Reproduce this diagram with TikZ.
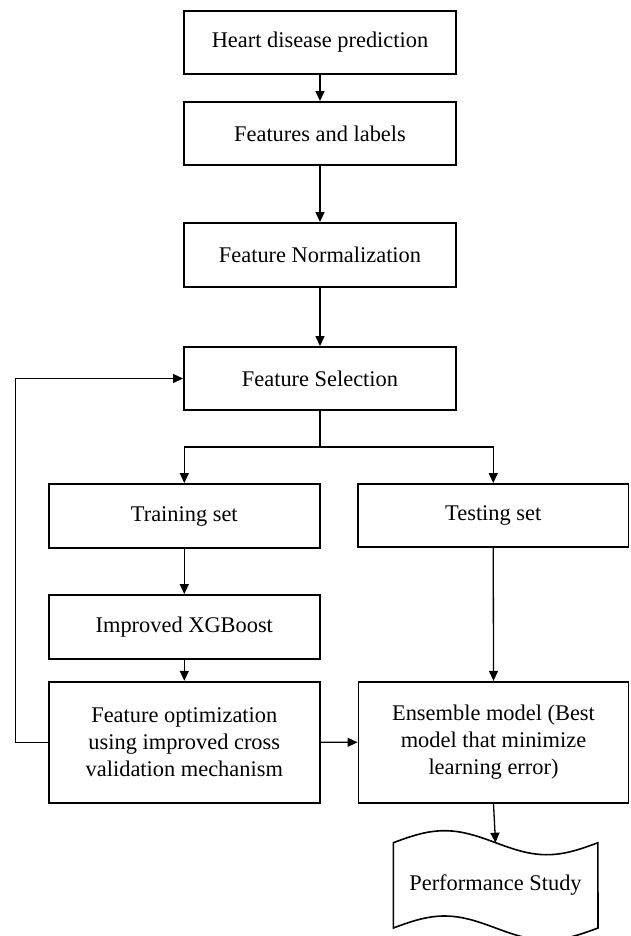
\documentclass[tikz,border=0pt]{standalone}
\usepackage{fontspec}
\setmainfont{Liberation Serif}
\usetikzlibrary{arrows.meta}
\begin{document}
\begin{tikzpicture}[x=1pt,y=-1pt,
  line/.style={draw=black,line width=1.3pt},
  arr/.style={line,-{Triangle[length=10pt,width=9pt]}},
  txt/.style={font=\fontsize{22.4}{27.3}\selectfont},
  box/.style={draw=black,line width=1.9pt,rectangle,inner sep=0pt,align=center,txt},
  bigbox/.style={box,minimum width=272pt,minimum height=63pt},
  halfbox/.style={box,minimum width=271.4pt,minimum height=64pt}
]
\useasboundingbox (0,0) rectangle (630,936);
\node[bigbox] (b1) at (320,42.5) {Heart disease prediction};
\node[bigbox] (b2) at (320,133.5) {Features and labels};
\node[bigbox,minimum height=64pt] (b3) at (320,255) {Feature Normalization};
\node[bigbox] (b4) at (320,378.5) {Feature Selection};
\node[halfbox] (train) at (184.3,516) {Training set};
\node[halfbox,minimum width=270.5pt,minimum height=63pt] (test) at (493.25,515.5) {Testing set};
\node[halfbox] (xgb) at (184.3,627) {Improved XGBoost};
\node[halfbox,minimum height=121pt] (opt) at (184.3,742.2) {Feature optimization\\using improved cross\\validation mechanism};
\node[halfbox,minimum width=270pt,minimum height=121pt] (ens) at (493.5,742.3) {Ensemble model (Best\\model that minimize\\learning error)};
% tape shape
\draw[draw=black,line width=1.6pt] plot[domain=0:1,samples=60] ({393.3+204.7*\x},{842.7-12*sin(360*\x)})
  -- plot[domain=1:0,samples=60] ({393.3+204.7*\x},{928-12*sin(360*\x)}) -- cycle;
\node[txt] (perf) at (495.5,885) {Performance Study};
\coordinate (perftop) at (495.5,842.7);
\coordinate (split) at (320,447);
\coordinate (loop) at (15.3,742.2);
% connectors
\draw[arr] (b1) -- (b2);
\draw[arr] (b2) -- (b3);
\draw[arr] (b3) -- (b4);
\draw[line] (b4.south) -- (split);
\draw[arr] (split) -| (train.north);
\draw[arr] (split) -| (test.north);
\draw[arr] (train) -- (xgb);
\draw[arr] (xgb) -- (opt);
\draw[arr] (opt.west) -- (loop) |- (b4.west);
\draw[arr] (opt.east) -- (ens.west);
\draw[arr] (test.south) -- (ens.north);
\draw[arr] (ens.south) -- (perftop);
\end{tikzpicture}
\end{document}
